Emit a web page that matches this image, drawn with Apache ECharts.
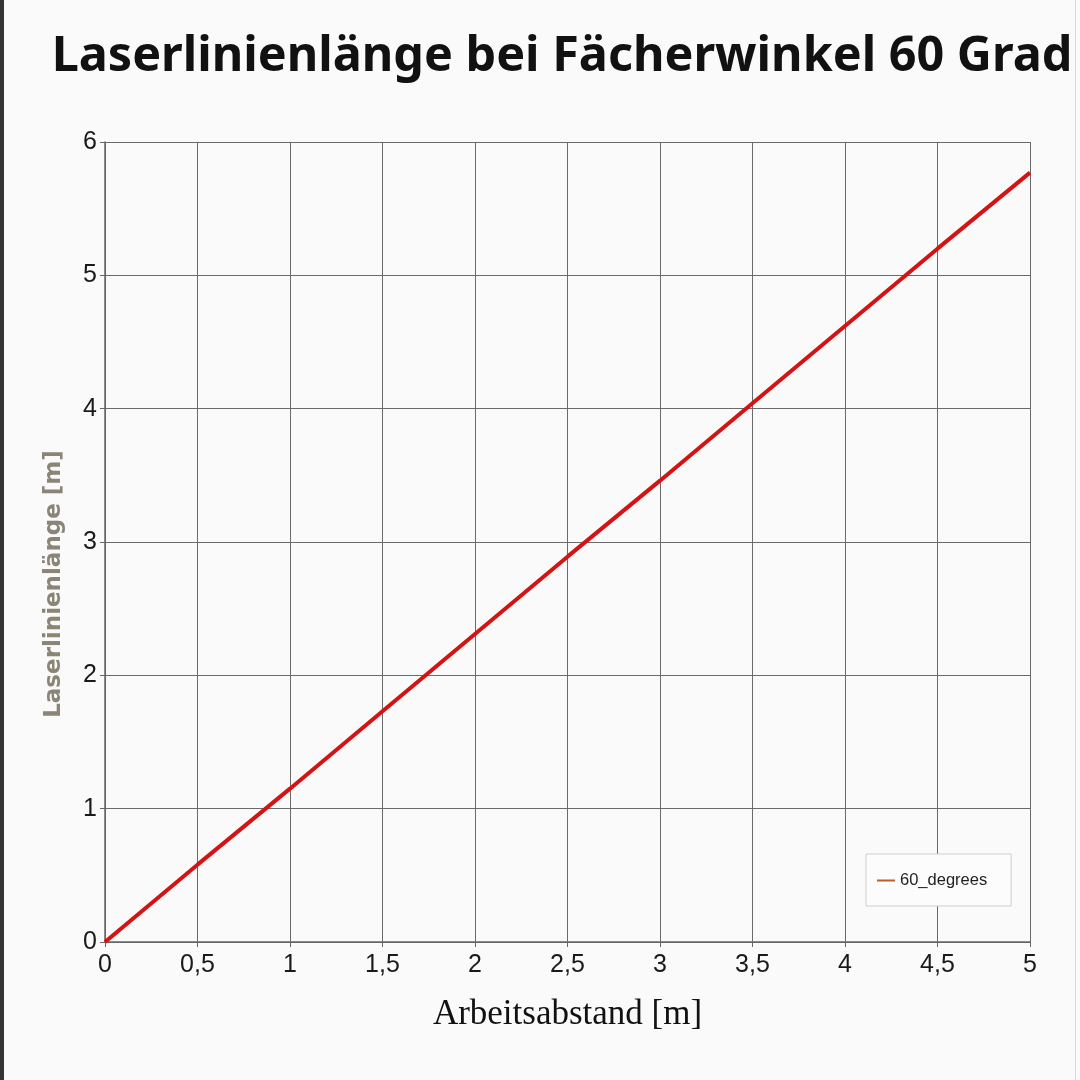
<!DOCTYPE html>
<html lang="de">
<head>
<meta charset="UTF-8">
<title>Laserlinienlänge</title>
<script src="https://cdn.jsdelivr.net/npm/echarts@6/dist/echarts.min.js"></script>
<style>
  html, body { margin: 0; padding: 0; background: #fafafa; }
  #main { width: 1080px; height: 1080px; }
</style>
</head>
<body>
<div id="main"></div>
<script type="text/javascript">
// Arbeitsabstand [m]
var abstand = [0, 0.5, 1, 1.5, 2, 2.5, 3, 3.5, 4, 4.5, 5];
// Laserlinienlänge [m] bei 60 Grad
var laenge60 = [0, 0.58, 1.15, 1.73, 2.31, 2.89, 3.46, 4.04, 4.62, 5.2, 5.77];
var seriesName = '60_degrees';

var punkte = [];
for (var i = 0; i < abstand.length; i++) {
    punkte.push([abstand[i], laenge60[i]]);
}

var myChart = echarts.init(document.getElementById('main'));
var option = {
    backgroundColor: '#fafafa',
    animation: false,
    title: {
        text: 'Laserlinienlänge bei Fächerwinkel 60 Grad',
        left: 557,
        top: 28,
        textAlign: 'center',
        textStyle: {
            fontFamily: 'Noto Sans',
            fontWeight: 'bold',
            fontSize: 48.5,
            color: '#111'
        }
    },
    legend: {
        left: 866,
        top: 854,
        orient: 'vertical',
        backgroundColor: '#fcfcfc',
        borderColor: '#cfcfcf',
        borderWidth: 1,
        borderRadius: 0,
        padding: [18, 24, 17, 11],
        itemWidth: 18,
        itemHeight: 2,
        textStyle: { fontFamily: 'Liberation Sans', fontSize: 16.5, color: '#222' },
        data: [{ name: seriesName, icon: 'rect', itemStyle: { color: '#b8602c' } }]
    },
    grid: { left: 105, right: 50, top: 142, bottom: 138 },
    xAxis: {
        type: 'value',
        min: 0, max: 5, interval: 0.5,
        name: 'Arbeitsabstand [m]',
        nameLocation: 'middle',
        nameGap: 55,
        nameTextStyle: { fontFamily: 'Liberation Serif', fontSize: 35, color: '#111' },
        axisLine: { show: true, lineStyle: { color: '#666', width: 1.5 } },
        axisTick: { show: true, length: 5, lineStyle: { color: '#666' } },
        axisLabel: {
            margin: 11,
            fontFamily: 'Liberation Sans', fontSize: 25, color: '#1a1a1a',
            formatter: function (v) { return String(v).replace('.', ','); }
        },
        splitLine: { show: true, lineStyle: { color: '#6a6a6a', width: 1 } }
    },
    yAxis: {
        type: 'value',
        min: 0, max: 6, interval: 1,
        axisLine: { show: true, lineStyle: { color: '#666', width: 1.5 } },
        axisTick: { show: true, length: 5, lineStyle: { color: '#666' } },
        axisLabel: { margin: 8, fontFamily: 'Liberation Sans', fontSize: 25, color: '#1a1a1a' },
        splitLine: { show: true, lineStyle: { color: '#6a6a6a', width: 1 } }
    },
    series: [{
        name: seriesName,
        type: 'line',
        data: punkte,
        symbol: 'none',
        lineStyle: { color: '#d41414', width: 4 },
        itemStyle: { color: '#d41414' }
    }],
    graphic: [
        { type: 'rect', shape: { x: 0, y: 0, width: 4, height: 1080 }, style: { fill: '#333' } },
        { type: 'rect', shape: { x: 1075, y: 0, width: 1, height: 1080 }, style: { fill: '#d8d8d8' } },
        // y-Achsentitel liegt im Original etwas unterhalb der Mitte
        {
            type: 'text', x: 54, y: 584, rotation: Math.PI / 2,
            style: {
                text: 'Laserlinienlänge [m]',
                font: 'bold 23px "DejaVu Sans"',
                fill: '#8a8576',
                align: 'center',
                verticalAlign: 'middle'
            }
        }
    ]
};
myChart.setOption(option);
</script>
</body>
</html>
